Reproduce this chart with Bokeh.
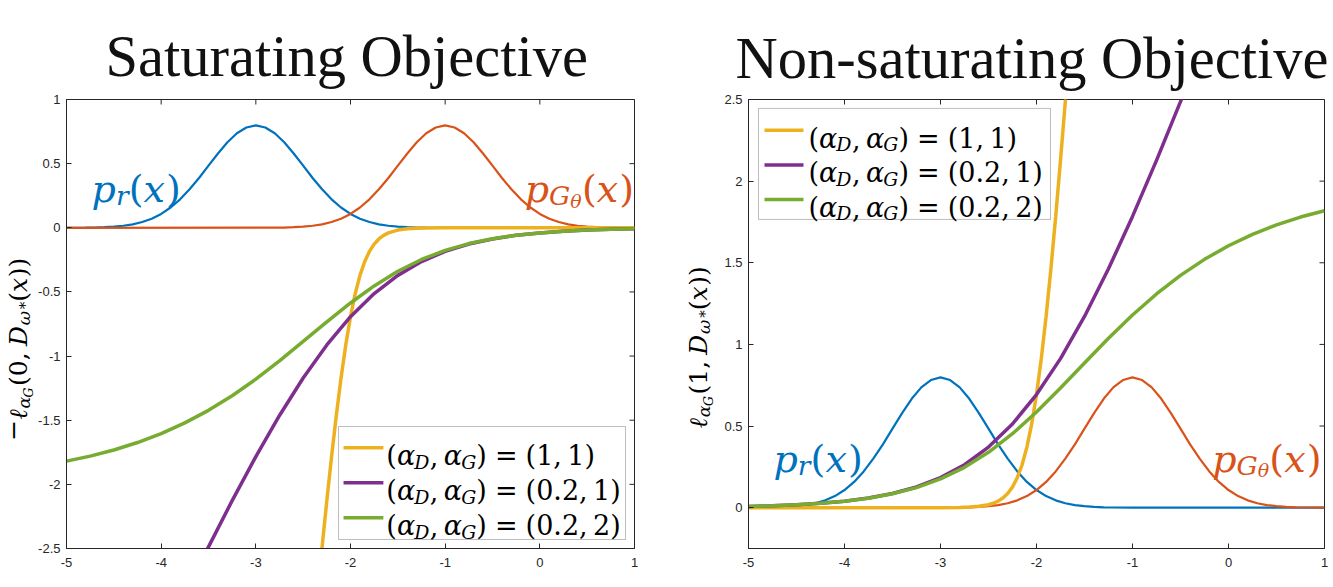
import math
from bokeh.plotting import figure
from bokeh.models import FixedTicker, Label, BoxAnnotation, Range1d
from bokeh.layouts import row
from bokeh.embed import file_html
from bokeh.resources import INLINE

# ---------------- data ----------------
x_pr = [-5.0, -4.8, -4.7, -4.6, -4.5, -4.4, -4.3, -4.2, -4.1, -4.0, -3.9, -3.8, -3.7,
        -3.6, -3.5, -3.4, -3.3, -3.2, -3.1, -3.0, -2.9, -2.8, -2.7, -2.6, -2.5, -2.4,
        -2.3, -2.2, -2.1, -2.0, -1.9, -1.8, -1.7, -1.6, -1.5, -1.4, -1.3, -1.2, -1.0, 1.0]
pr = [0.0, 0.001, 0.002, 0.005, 0.009, 0.016, 0.027, 0.045, 0.071, 0.108, 0.158, 0.222, 0.300,
      0.388, 0.484, 0.579, 0.667, 0.737, 0.782, 0.798, 0.782, 0.737, 0.667, 0.579, 0.484, 0.388,
      0.300, 0.222, 0.158, 0.108, 0.071, 0.045, 0.027, 0.016, 0.009, 0.005, 0.002, 0.001, 0.0, 0.0]

x_pg = [-5.0, -2.8, -2.7, -2.6, -2.5, -2.4, -2.3, -2.2, -2.1, -2.0, -1.9, -1.8, -1.7,
        -1.6, -1.5, -1.4, -1.3, -1.2, -1.1, -1.0, -0.9, -0.8, -0.7, -0.6, -0.5, -0.4,
        -0.3, -0.2, -0.1, 0.0, 0.1, 0.2, 0.3, 0.4, 0.5, 0.6, 0.7, 0.8, 1.0]
pg = [0.0, 0.001, 0.002, 0.005, 0.009, 0.016, 0.027, 0.045, 0.071, 0.108, 0.158, 0.222, 0.300,
      0.388, 0.484, 0.579, 0.667, 0.737, 0.782, 0.798, 0.782, 0.737, 0.667, 0.579, 0.484, 0.388,
      0.300, 0.222, 0.158, 0.108, 0.071, 0.045, 0.027, 0.016, 0.009, 0.005, 0.002, 0.001, 0.0]

# Saturating objective
x_sat_11 = [-2.35, -2.3, -2.25, -2.2, -2.15, -2.1, -2.05, -2.0, -1.95, -1.9, -1.85, -1.8,
            -1.75, -1.7, -1.65, -1.6, -1.5, -1.4, -1.3, -1.2, -1.0, 0.0, 1.0]
sat_11 = [-2.859, -2.487, -2.127, -1.784, -1.463, -1.171, -0.913, -0.693, -0.513, -0.371,
          -0.263, -0.184, -0.127, -0.087, -0.059, -0.040, -0.018, -0.008, -0.004, -0.002,
          0.0, 0.0, 0.0]
x_sat_021 = [-3.75, -3.5, -3.25, -3.0, -2.75, -2.5, -2.25, -2.0, -1.75, -1.5, -1.25, -1.0,
             -0.75, -0.5, -0.25, 0.0, 0.25, 0.5, 0.75, 1.0]
sat_021 = [-2.859, -2.487, -2.127, -1.784, -1.463, -1.171, -0.913, -0.693, -0.513, -0.371,
           -0.263, -0.184, -0.127, -0.087, -0.059, -0.040, -0.027, -0.018, -0.012, -0.008]
x_sat_022 = [-5.0, -4.75, -4.5, -4.25, -4.0, -3.75, -3.5, -3.25, -3.0, -2.75, -2.5, -2.25,
             -2.0, -1.75, -1.5, -1.25, -1.0, -0.75, -0.5, -0.25, 0.0, 0.25, 0.5, 0.75, 1.0]
sat_022 = [-1.819, -1.780, -1.732, -1.674, -1.604, -1.521, -1.423, -1.309, -1.180, -1.038,
           -0.886, -0.733, -0.586, -0.453, -0.339, -0.247, -0.176, -0.123, -0.085, -0.058,
           -0.040, -0.027, -0.018, -0.012, -0.008]

# Non-saturating objective
x_ns_11 = [-5.0, -3.0, -2.8, -2.7, -2.6, -2.5, -2.45, -2.4, -2.35, -2.3, -2.25, -2.2, -2.15,
           -2.1, -2.05, -2.0, -1.95, -1.9, -1.85, -1.8, -1.75, -1.7, -1.65]
ns_11 = [0.0, 0.0003, 0.0017, 0.0037, 0.0082, 0.018, 0.027, 0.040, 0.059, 0.087, 0.127, 0.184,
         0.263, 0.371, 0.513, 0.693, 0.913, 1.171, 1.463, 1.784, 2.127, 2.487, 2.859]
x_ns_021 = [-5.0, -4.75, -4.5, -4.25, -4.0, -3.75, -3.5, -3.25, -3.0, -2.75, -2.5, -2.25,
            -2.0, -1.75, -1.5, -1.25, -1.0, -0.75, -0.5, -0.25]
ns_021 = [0.008, 0.012, 0.018, 0.027, 0.040, 0.059, 0.087, 0.127, 0.184, 0.263, 0.371, 0.513,
          0.693, 0.913, 1.171, 1.463, 1.784, 2.127, 2.487, 2.859]
x_ns_022 = [-5.0, -4.75, -4.5, -4.25, -4.0, -3.75, -3.5, -3.25, -3.0, -2.75, -2.5, -2.25,
            -2.0, -1.75, -1.5, -1.25, -1.0, -0.75, -0.5, -0.25, 0.0, 0.25, 0.5, 0.75, 1.0]
ns_022 = [0.008, 0.012, 0.018, 0.027, 0.040, 0.058, 0.085, 0.123, 0.176, 0.247, 0.339, 0.453,
          0.586, 0.733, 0.886, 1.038, 1.180, 1.309, 1.423, 1.521, 1.604, 1.674, 1.732, 1.780, 1.819]

x_ticks = [-5, -4, -3, -2, -1, 0, 1]
x_tick_labels = ["-5", "-4", "-3", "-2", "-1", "0", "1"]
yl_ticks = [-2.5, -2, -1.5, -1, -0.5, 0, 0.5, 1]
yl_tick_labels = ["-2.5", "-2", "-1.5", "-1", "-0.5", "0", "0.5", "1"]
yr_ticks = [0, 0.5, 1, 1.5, 2, 2.5]
yr_tick_labels = ["0", "0.5", "1", "1.5", "2", "2.5"]

legend_values = [("1", "1"), ("0.2", "1"), ("0.2", "2")]

# ---------------- style ----------------
BLUE, ORANGE, YELLOW, PURPLE, GREEN = "#0072BD", "#D95319", "#EDB120", "#7E2F8E", "#77AC30"
AXC = "#262626"
MATH_FONT = "DejaVu Serif"
TICK_FONT = "Liberation Sans"
H = 586
ASC = 0.928  # ascent of the math font, in em

REG_W = {' ': 0.318, '(': 0.390, ')': 0.390, ',': 0.318, '.': 0.318, '=': 0.838,
         '\u2212': 0.838, '0': 0.636, '1': 0.636, '2': 0.636, '\u2217': 0.5, '*': 0.5}
ITA_W = {'p': 0.640, 'x': 0.592, 'r': 0.481, 'D': 0.830, 'G': 0.800, '\u03b1': 0.640,
         '\u03b8': 0.610, '\u03c9': 0.830, '\u2113': 0.450}


def text_w(s, italic, size):
    tbl = ITA_W if italic else REG_W
    return sum(tbl.get(c, REG_W.get(c, 0.6)) for c in s) * size


def total_w(pieces):
    t = 0.0
    for pc in pieces:
        t += pc if isinstance(pc, (int, float)) else text_w(pc[0], pc[1], pc[2])
    return t


def rich(p, x, y, pieces, color, vertical=False, center=False, main=None):
    """pieces: (text, italic, size, baseline shift up) or a number = extra advance."""
    adv = -total_w(pieces) / 2 if center else 0.0
    for pc in pieces:
        if isinstance(pc, (int, float)):
            adv += pc
            continue
        s, italic, size, shift = pc
        if not vertical:
            xo, yo, ang, base = adv, shift, 0.0, "alphabetic"
        else:
            # reads bottom-to-top; anchor = top of the main text's em box
            xo, yo, ang, base = ASC * (main - size) - shift, adv, math.pi / 2, "top"
        p.add_layout(Label(x=x, y=y, x_offset=xo, y_offset=yo, text=s, angle=ang,
                           text_font=MATH_FONT, text_font_size=f"{size:.1f}px",
                           text_font_style="italic" if italic else "normal",
                           text_color=color, text_align="left", text_baseline=base))
        adv += text_w(s, italic, size)


def make_fig(width, xr, yr, borders, title, title_offset, standoff, yticks, ylabels):
    bl, br, bt, bb = borders
    p = figure(width=width, height=H, x_range=Range1d(*xr), y_range=Range1d(*yr),
               output_backend="svg", toolbar_location=None, tools="",
               min_border_left=bl, min_border_right=br, min_border_top=bt, min_border_bottom=bb,
               background_fill_color="white", border_fill_color="white")
    p.grid.visible = False
    p.outline_line_color = AXC
    p.outline_line_width = 1
    p.title.text = title
    p.title.text_font = "Liberation Serif"
    p.title.text_font_size = "58.5px"
    p.title.text_font_style = "normal"
    p.title.text_color = "#111111"
    p.title.align = "left"
    p.title.offset = title_offset
    p.title.standoff = standoff
    xo = {float(v): s for v, s in zip(x_ticks, x_tick_labels)}
    yo = {float(v): s for v, s in zip(yticks, ylabels)}
    for ax, ticks, ov, so in ((p.xaxis[0], x_ticks, xo, 9), (p.yaxis[0], yticks, yo, 6)):
        ax.ticker = FixedTicker(ticks=ticks)
        ax.major_label_overrides = ov
        ax.major_tick_in = 5
        ax.major_tick_out = 0
        ax.minor_tick_line_color = None
        ax.axis_line_color = AXC
        ax.major_tick_line_color = AXC
        ax.major_label_text_font = TICK_FONT
        ax.major_label_text_font_size = "13px"
        ax.major_label_text_color = AXC
        ax.major_label_standoff = so
    # inward ticks on the top and right edges of the box
    p.ray(x=x_ticks, y=[yr[1]] * len(x_ticks), length=5, length_units="screen",
          angle=-math.pi / 2, line_color=AXC, line_width=1)
    p.ray(x=[xr[1]] * len(yticks), y=yticks, length=5, length_units="screen",
          angle=math.pi, line_color=AXC, line_width=1)
    return p


def label_fig(width):
    f = figure(width=width, height=H, x_range=Range1d(0, width), y_range=Range1d(0, H),
               x_axis_type=None, y_axis_type=None, output_backend="svg",
               toolbar_location=None, tools="", min_border=0, title_location=None,
               outline_line_color=None, background_fill_color="white",
               border_fill_color="white")
    f.grid.visible = False
    return f


def fx2x(p, fx, fw):
    return p.x_range.start + fx / fw * (p.x_range.end - p.x_range.start)


def fy2y(p, fy, fh):
    return p.y_range.end - fy / fh * (p.y_range.end - p.y_range.start)


def draw_curves(p, s11x, s11, s021x, s021, s022x, s022):
    p.line(x_pr, pr, line_color=BLUE, line_width=2.2)
    p.line(x_pg, pg, line_color=ORANGE, line_width=2.2)
    p.line(s11x, s11, line_color=YELLOW, line_width=3.5)
    p.line(s021x, s021, line_color=PURPLE, line_width=3.5)
    p.line(s022x, s022, line_color=GREEN, line_width=3.5)


def draw_legend(p, fw, fh, box, sample, rows, text_x, F=27):
    p.add_layout(BoxAnnotation(left=fx2x(p, box[0], fw), right=fx2x(p, box[1], fw),
                               top=fy2y(p, box[2], fh), bottom=fy2y(p, box[3], fh),
                               fill_color="white", fill_alpha=1.0, line_color=AXC,
                               line_width=1, level="underlay"))
    for (a, b), fy, col in zip(legend_values, rows, (YELLOW, PURPLE, GREEN)):
        yy = fy2y(p, fy, fh)
        p.segment(x0=[fx2x(p, sample[0], fw)], y0=[yy], x1=[fx2x(p, sample[1], fw)], y1=[yy],
                  line_color=col, line_width=3.5)
        ybase = fy2y(p, fy + 0.295 * F, fh)
        pieces = [("(", False, F, 0), ("\u03b1", True, F, 0), ("D", True, 0.7 * F, -0.22 * F),
                  (",", False, F, 0), 0.2 * F, ("\u03b1", True, F, 0),
                  ("G", True, 0.7 * F, -0.22 * F), (")", False, F, 0), 0.3 * F,
                  ("=", False, F, 0), 0.3 * F, ("(" + a + ",", False, F, 0), 0.2 * F,
                  (b + ")", False, F, 0)]
        rich(p, fx2x(p, text_x, fw), ybase, pieces, "#000000")


def density_labels(p, xr_, yr_, xg, yg, F=38):
    rich(p, xr_, yr_, [("p", True, F, 0), ("r", True, 0.7 * F, -0.17 * F),
                       ("(", False, F, 0), ("x", True, F, 0), (")", False, F, 0)], BLUE)
    rich(p, xg, yg, [("p", True, F, 0), ("G", True, 0.7 * F, -0.17 * F),
                     ("\u03b8", True, 0.5 * F, -0.3 * F), ("(", False, F, 0),
                     ("x", True, F, 0), (")", False, F, 0)], ORANGE)


def ylabel(f, x, y, lead, first, F=25):
    pieces = []
    if lead:
        pieces.append(("\u2212", False, F, 0))
    pieces += [("\u2113", True, F, 0), ("\u03b1", True, 0.7 * F, -0.15 * F),
               ("G", True, 0.5 * F, -0.22 * F), 0.06 * F, ("(" + first + ",", False, F, 0),
               0.25 * F, ("D", True, F, 0), ("\u03c9", True, 0.7 * F, -0.15 * F),
               ("\u2217", False, 0.6 * F, 0.0), 0.06 * F, ("(", False, F, 0),
               ("x", True, F, 0), ("))", False, F, 0)]
    rich(f, x, y, pieces, "#000000", vertical=True, center=True, main=F)


# ---------------- left panel ----------------
LAW = 35
la = label_fig(LAW)
ylabel(la, 3.0, H - 326, True, "0")

LW, LFW, LFH = 645, 570, 449
p1 = make_fig(LW, (-5, 1), (-2.5, 1), (29, LW - 29 - 570, 99, H - 548), "Saturating Objective",
              39, 21, yl_ticks, yl_tick_labels)
draw_curves(p1, x_sat_11, sat_11, x_sat_021, sat_021, x_sat_022, sat_022)
draw_legend(p1, LFW, LFH, (273, 561, 327, 440), (278, 318), (348.3, 383.3, 418.3), 321)
density_labels(p1, -4.735, 0.30, -0.16, 0.30)

# ---------------- right panel ----------------
LBW = 35
lb = label_fig(LBW)
ylabel(lb, 3.0, H - 323.5, False, "1")

RW, RFW, RFH = 617, 576, 453
p2 = make_fig(RW, (-5, 1), (-0.25, 2.5), (33, RW - 33 - 576, 96, H - 549),
              "Non-saturating Objective", -13, 18, yr_ticks, yr_tick_labels)
draw_curves(p2, x_ns_11, ns_11, x_ns_021, ns_021, x_ns_022, ns_022)
draw_legend(p2, RFW, RFH, (10, 302, 9, 121), (16, 55), (31, 66, 101), 60)
density_labels(p2, -4.74, 0.30, -0.17, 0.30)

layout = row(la, p1, lb, p2)
open("out.html", "w", encoding="utf-8").write(file_html(layout, INLINE))
